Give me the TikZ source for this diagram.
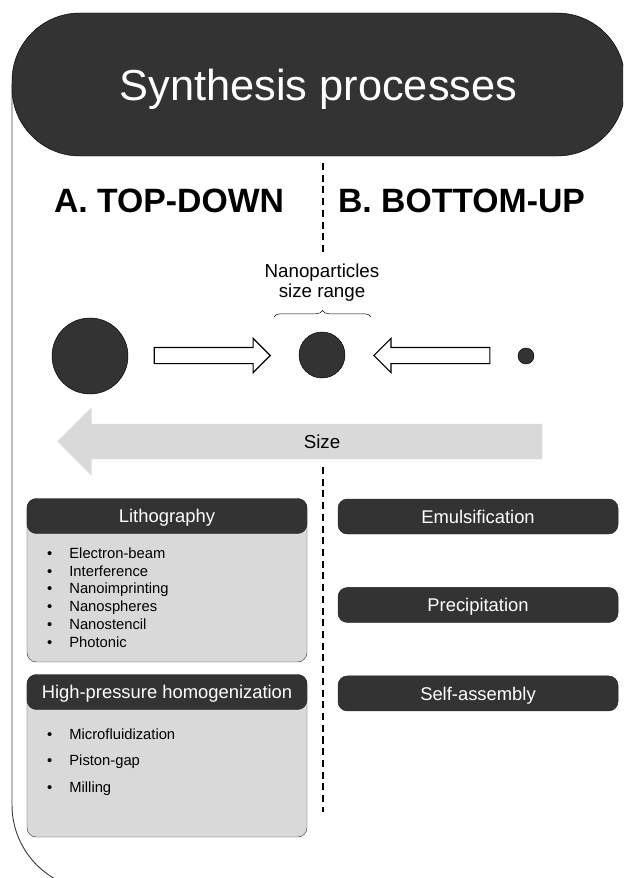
\documentclass[tikz,border=0pt]{standalone}
\usepackage{fontspec}
\setmainfont{Liberation Sans}
\usetikzlibrary{positioning,shapes.arrows,decorations.pathreplacing}
\definecolor{darkfill}{HTML}{333333}
\definecolor{lightfill}{HTML}{D9D9D9}

\tikzset{
    headbox/.style={draw=black!85, fill=darkfill, text=white, rounded corners=8pt,
        minimum width=8.4cm, minimum height=1.05cm, inner sep=0pt,
        font=\fontsize{15.7}{18}\selectfont, text height=11.2pt, text depth=0pt},
    bodybox/.style={draw=black!75, fill=lightfill, rounded corners=8pt, minimum width=8.4cm},
    itemlist/.style={anchor=base west, inner sep=0pt},
    particle/.style={circle, draw=black, fill=darkfill, inner sep=0pt},
    hollow/.style={single arrow, draw=black, fill=white, line width=1pt,
        inner xsep=0pt, inner ysep=0.225cm,
        minimum height=3.48cm, minimum width=0.99cm, single arrow head extend=0.27cm},
    divider/.style={line width=1pt, dash pattern=on 6pt off 4pt},
    sidehead/.style={font=\fontsize{28.8}{30}\selectfont\bfseries, anchor=base},
    plainlbl/.style={font=\fontsize{16}{18}\selectfont, anchor=base, inner sep=0pt}
}

\begin{document}
\begin{tikzpicture}[x=0.03cm, y=-0.03cm]
    \useasboundingbox (0,0) rectangle (623,878);
    \clip (0,0) rectangle (623,878);

    % outer frame, cut by the page edge
    \draw[black!75, line width=0.8pt, rounded corners=2.55cm] (12,84) -- (12,890) -- (720,890);

    % title
    \node[draw=black, fill=darkfill, text=white, rounded corners=2.04cm, inner sep=0pt,
        minimum width=18.39cm, minimum height=4.29cm,
        font=\fontsize{37}{40}\selectfont, text height=26.5pt, text depth=0pt]
        (title) at (318.5,84.5) {Synthesis processes};

    \node[sidehead] (topdown) at (169,213) {A. TOP-DOWN};
    \node[sidehead] (bottomup) at (461.5,213) {B. BOTTOM-UP};

    % dividing line
    \coordinate (divA) at (323,163);
    \coordinate (divB) at (323,253);
    \coordinate (divC) at (323,467);
    \coordinate (divD) at (323,812);
    \draw[divider] (divA) -- (divB);
    \draw[divider] (divC) -- (divD);

    % particle sizes
    \node[plainlbl] (nanolbl) at (322,277) {Nanoparticles};
    \node[plainlbl] (rangelbl) at (322,297) {size range};
    \coordinate (rangeL) at (274,317);
    \coordinate (rangeR) at (371,317);
    \draw[decorate, decoration={brace, amplitude=5.5pt}] (rangeL) -- (rangeR);

    \node[particle, minimum size=2.28cm] (bigNP) at (90,356) {};
    \node[particle, minimum size=1.38cm] (midNP) at (322,355) {};
    \node[particle, minimum size=0.48cm] (smallNP) at (526,356) {};
    \node[hollow, anchor=tip] (tdArrow) at (271,355.5) {};
    \node[hollow, shape border rotate=180, anchor=tip] (buArrow) at (373,355.5) {};

    \node[single arrow, fill=lightfill, inner xsep=0pt, inner ysep=0.525cm, shape border rotate=180,
        minimum height=14.55cm, minimum width=2.04cm, single arrow head extend=0.5cm, anchor=tip]
        (sizeArrow) at (57,441.5) {};
    \node[plainlbl] (sizelbl) at (322,448) {Size};

    % top-down methods
    \node[bodybox, minimum height=4.89cm] (lithoBody) at (167,580.5) {};
    \node[headbox] (litho) at (167,516) {Lithography};
    \node[itemlist] (lithoItems) at (47,558) {\fontsize{12.6}{15.36}\selectfont
        \begin{tabular}[t]{@{}l@{\hspace{14.5pt}}l@{}}
            • & Electron-beam\\
            • & Interference\\
            • & Nanoimprinting\\
            • & Nanospheres\\
            • & Nanostencil\\
            • & Photonic
        \end{tabular}};

    \node[bodybox, minimum height=4.86cm] (hphBody) at (167,756) {};
    \node[headbox] (hph) at (167,692) {High-pressure homogenization};
    \node[itemlist] (hphItems) at (47,739) {\fontsize{12.6}{23}\selectfont
        \begin{tabular}[t]{@{}l@{\hspace{14.5pt}}l@{}}
            • & Microfluidization\\
            • & Piston-gap\\
            • & Milling
        \end{tabular}};

    % bottom-up methods
    \node[headbox] (emul) at (478,516.5) {Emulsification};
    \node[headbox, below=1.59cm of emul] (precip) {Precipitation};
    \node[headbox, below=1.59cm of precip] (selfasm) {Self-assembly};
\end{tikzpicture}
\end{document}
